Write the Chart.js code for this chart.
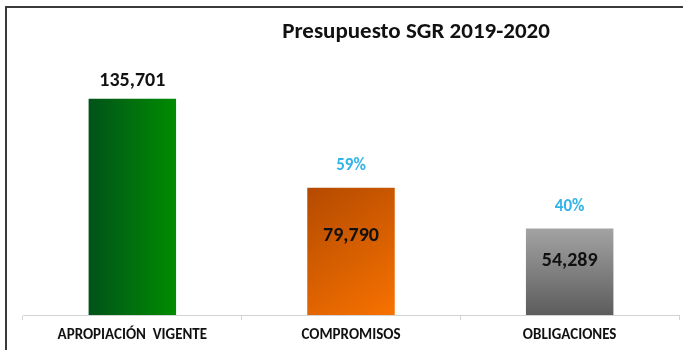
<!DOCTYPE html>
<html>
<head>
<meta charset="utf-8">
<script src="https://cdn.jsdelivr.net/npm/chart.js@4.4.1/dist/chart.umd.min.js"></script>
<style>
  html, body { margin: 0; padding: 0; background: #fff; overflow: hidden; }
  .frame {
    position: absolute; left: 5px; top: 6px;
    width: 800px; height: 400px;
    border: 2px solid #3a3a3a; background: #fff;
  }
  .wrap { position: absolute; left: 0; top: 0; width: 683px; height: 350px; }
</style>
</head>
<body>
<div class="frame"></div>
<div class="wrap"><canvas id="sgrChart" width="683" height="350"></canvas></div>
<script>
const FONT = "Carlito, 'Open Sans', 'DejaVu Sans', sans-serif";

const chartTitle = 'Presupuesto SGR 2019-2020';
const categories = ['APROPIACIÓN  VIGENTE', 'COMPROMISOS', 'OBLIGACIONES'];
const amounts = [135701, 79790, 54289];
// colour stops for each bar: [start, end, direction]
const barFills = [
  ['#00531a', '#008c00', 'h'],
  ['#b44a00', '#f77200', 'd'],
  ['#a3a3a3', '#5c5c5c', 'v'],
];

const BAR_PCT = 0.4;

const fmt = (v) => v.toLocaleString('en-US');

const barFill = (ctx) => {
  const chart = ctx.chart;
  const area = chart.chartArea;
  const fill = barFills[ctx.dataIndex];
  if (!area) return fill[1];
  const xs = chart.scales.x;
  const ys = chart.scales.y;
  const half = (xs.width / categories.length) * BAR_PCT / 2;
  const cx = xs.getPixelForValue(ctx.dataIndex);
  const top = ys.getPixelForValue(amounts[ctx.dataIndex]);
  const bottom = ys.getPixelForValue(0);
  let g;
  if (fill[2] === 'h') g = chart.ctx.createLinearGradient(cx - half, 0, cx + half, 0);
  else if (fill[2] === 'v') g = chart.ctx.createLinearGradient(0, top, 0, bottom);
  else g = chart.ctx.createLinearGradient(cx - half, top, cx + half, bottom);
  g.addColorStop(0, fill[0]);
  g.addColorStop(1, fill[1]);
  return g;
};

// title (sits right of centre) plus value and percentage labels
const barLabels = {
  id: 'barLabels',
  afterDraw(chart) {
    const c = chart.ctx;
    const bars = chart.getDatasetMeta(0).data;
    c.save();
    c.textAlign = 'center';
    c.textBaseline = 'middle';
    c.fillStyle = '#111';
    c.font = 'bold 23px ' + FONT;
    c.fillText(chartTitle, 416, 32);
    bars.forEach((bar, i) => {
      if (i === 0) {
        c.fillStyle = '#111';
        c.font = 'bold 20px ' + FONT;
        c.fillText(fmt(amounts[i]), bar.x, bar.y - 18);
        return;
      }
      const pct = Math.round(amounts[i] / amounts[0] * 100);
      c.fillStyle = '#33b4e8';
      c.font = 'bold 17px ' + FONT;
      c.fillText(pct + '%', bar.x, bar.y - 22);
      c.fillStyle = '#111';
      c.font = 'bold 20px ' + FONT;
      c.fillText(fmt(amounts[i]), bar.x, bar.y + (bar.base - bar.y) * 0.38);
    });
    c.restore();
  }
};

new Chart(document.getElementById('sgrChart'), {
  type: 'bar',
  data: {
    labels: categories,
    datasets: [{
      data: amounts,
      backgroundColor: barFill,
      borderWidth: 0,
      categoryPercentage: 1,
      barPercentage: BAR_PCT,
    }],
  },
  options: {
    responsive: false,
    animation: false,
    layout: { padding: { left: 23, right: 4, top: 60, bottom: 0 } },
    plugins: {
      legend: { display: false },
      tooltip: { enabled: false },
      title: { display: false },
    },
    scales: {
      x: {
        grid: {
          offset: true,
          drawOnChartArea: false,
          tickLength: 5,
          color: '#d3d3d3',
        },
        border: { color: '#d3d3d3' },
        ticks: {
          padding: 6,
          color: '#111',
          font: { family: FONT, size: 15, weight: 'bold' },
        },
      },
      y: {
        display: false,
        min: 0,
        max: 160000,
      },
    },
  },
  plugins: [barLabels],
});
</script>
</body>
</html>
